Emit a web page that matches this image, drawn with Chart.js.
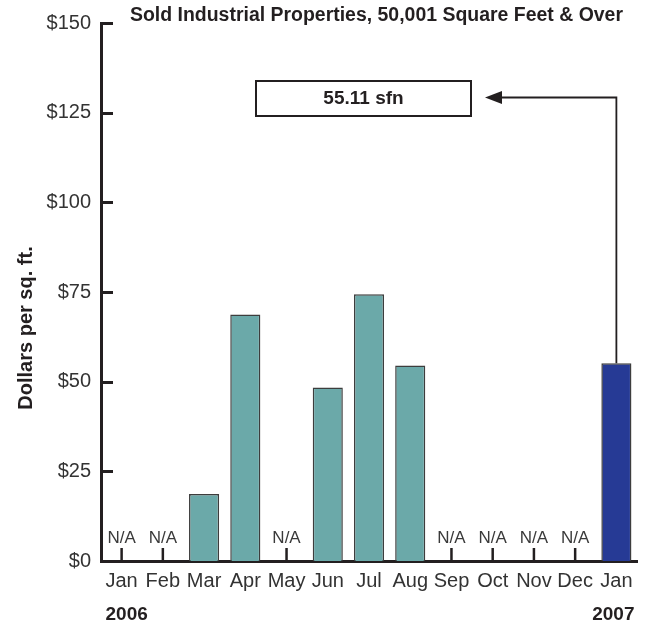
<!DOCTYPE html>
<html><head><meta charset="utf-8">
<script src="https://cdn.jsdelivr.net/npm/chart.js@4/dist/chart.umd.min.js"></script>
<style>html,body{margin:0;padding:0;background:#fff;}</style>
</head><body>
<canvas id="c" width="647" height="623"></canvas>
<script>
const chartTitle = 'Sold Industrial Properties, 50,001 Square Feet & Over';
const yAxisTitle = 'Dollars per sq. ft.';
const months = ['Jan','Feb','Mar','Apr','May','Jun','Jul','Aug','Sep','Oct','Nov','Dec','Jan'];
const yearLabels = ['2006','2007'];
const pricePerSqFt = [null,null,18.7,68.7,null,48.4,74.4,54.5,null,null,null,null,55.11];
const yTickValues = [0,25,50,75,100,125,150];
const calloutText = '55.11 sfn';
const naText = 'N/A';

const INK = '#231F20';
const TEAL = '#6BA9A9';
const NAVY = '#263A95';
const FONT = '"Liberation Sans", Arial, sans-serif';

const decor = {
  id: 'decor',
  afterDraw(chart) {
    const ctx = chart.ctx, ca = chart.chartArea;
    const xs = chart.scales.x, ys = chart.scales.y;
    ctx.save();
    // title, condensed to the reference width
    ctx.fillStyle = INK;
    ctx.font = 'bold 20px ' + FONT;
    ctx.textAlign = 'left'; ctx.textBaseline = 'alphabetic';
    const tw = ctx.measureText(chartTitle).width;
    ctx.save();
    ctx.translate(130, 20.5);
    ctx.scale(493 / tw, 1);
    ctx.fillText(chartTitle, 0, 0);
    ctx.restore();
    // y title
    ctx.save();
    ctx.translate(31.5, 328);
    ctx.rotate(-Math.PI/2);
    ctx.font = 'bold 20px ' + FONT;
    ctx.textAlign = 'center';
    ctx.fillText(yAxisTitle, 0, 0);
    ctx.restore();
    // inward y ticks
    ctx.strokeStyle = INK; ctx.lineWidth = 3;
    yTickValues.forEach(v => {
      if (v === 0) return;
      const y = Math.round(ys.getPixelForValue(v)) + 0.5;
      ctx.beginPath(); ctx.moveTo(ca.left, y); ctx.lineTo(ca.left + 12, y); ctx.stroke();
    });
    // N/A markers
    ctx.font = '17px ' + FONT;
    ctx.fillStyle = '#3a3a3a';
    ctx.textAlign = 'center';
    pricePerSqFt.forEach((v, i) => {
      if (v !== null) return;
      const x = xs.getPixelForValue(i);
      ctx.fillText(naText, x, 543);
      ctx.lineWidth = 2.5; ctx.strokeStyle = INK;
      ctx.beginPath(); ctx.moveTo(x, ca.bottom - 13); ctx.lineTo(x, ca.bottom); ctx.stroke();
    });
    // years
    ctx.fillStyle = INK;
    ctx.font = '20px ' + FONT;
    const wFirst = ctx.measureText(months[0]).width;
    const wLast = ctx.measureText(months[months.length-1]).width;
    ctx.font = 'bold 19px ' + FONT;
    ctx.textAlign = 'left';
    ctx.fillText(yearLabels[0], xs.getPixelForValue(0) - wFirst/2, 620);
    ctx.textAlign = 'right';
    ctx.fillText(yearLabels[1], xs.getPixelForValue(months.length-1) + wLast/2 + 2, 620);
    // callout
    const bar = chart.getDatasetMeta(0).data[pricePerSqFt.length-1];
    const ay = 97.5;
    ctx.lineWidth = 2; ctx.strokeStyle = INK;
    ctx.strokeRect(256, 81, 215, 35);
    ctx.font = 'bold 19px ' + FONT;
    ctx.textAlign = 'center'; ctx.textBaseline = 'middle';
    ctx.fillText(calloutText, 363.5, 99);
    ctx.lineWidth = 1.8;
    ctx.beginPath();
    ctx.moveTo(bar.x, bar.y);
    ctx.lineTo(bar.x, ay);
    ctx.lineTo(500, ay);
    ctx.stroke();
    ctx.beginPath();
    ctx.moveTo(485, ay); ctx.lineTo(502, ay - 6.5); ctx.lineTo(502, ay + 6.5); ctx.closePath();
    ctx.fill();
    ctx.restore();
  }
};

new Chart(document.getElementById('c'), {
  type: 'bar',
  data: {
    labels: months,
    datasets: [{
      data: pricePerSqFt,
      backgroundColor: c => c.dataIndex === pricePerSqFt.length - 1 ? NAVY : TEAL,
      borderColor: '#3d3d3d',
      borderWidth: 1.5,
      barPercentage: 0.73,
      categoryPercentage: 1
    }]
  },
  options: {
    responsive: false,
    animation: false,
    devicePixelRatio: 1,
    layout: { padding: { top: 23, right: 10, left: 0, bottom: 0 } },
    plugins: { legend: { display: false }, tooltip: { enabled: false }, title: { display: false } },
    scales: {
      x: {
        grid: { display: false, drawTicks: false },
        border: { display: true, width: 3, color: INK },
        ticks: { color: '#333', font: { family: FONT, size: 20 }, padding: 8, maxRotation: 0, autoSkip: false },
        afterFit: s => { s.height = 62; }
      },
      y: {
        min: 0, max: 150,
        afterBuildTicks: s => { s.ticks = yTickValues.map(v => ({ value: v })); },
        grid: { display: false, drawTicks: false },
        border: { display: true, width: 3, color: INK },
        ticks: { color: '#333', font: { family: FONT, size: 20 }, padding: 10, callback: v => '$' + v },
        afterFit: s => { s.width = 101; }
      }
    }
  },
  plugins: [decor]
});
</script>
</body></html>
